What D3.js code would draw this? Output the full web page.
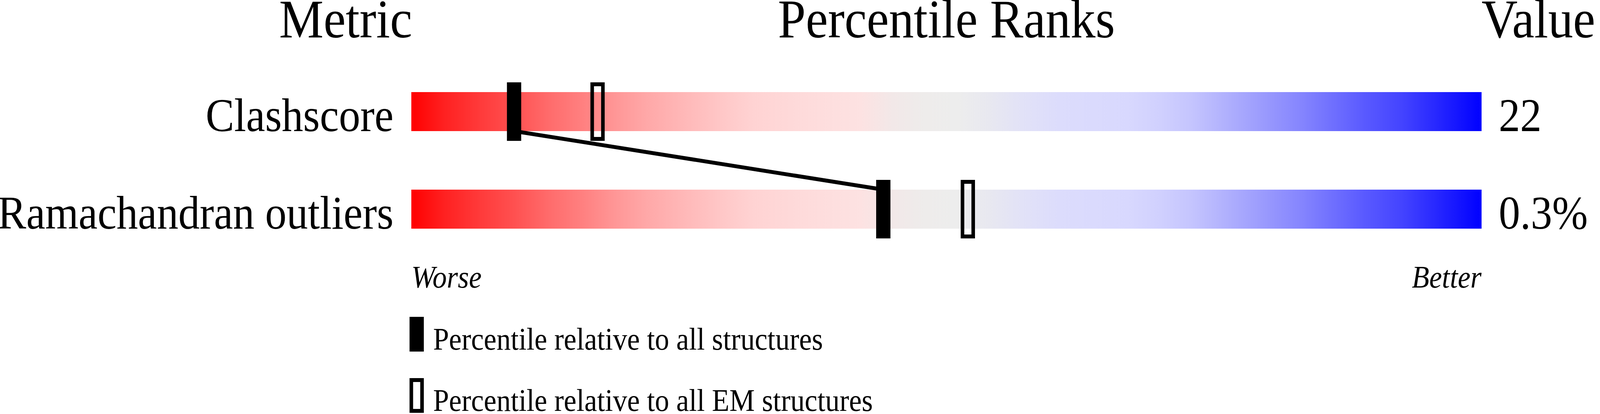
<!DOCTYPE html>
<html>
    <head>
        <script src="https://d3js.org/d3.v7.min.js"></script>
        <style>
            html, body { margin: 0; padding: 0; overflow: hidden; background: #fff; }
            svg { display: block; width: 100vw; height: 100vh; }
            text { font-family: "Liberation Serif", "Times New Roman", serif; fill: #000; }
        </style>
    </head>
    <body>
        <div id="graph"></div>
    </body>
</html>

<script>
    var metrics = ["Clashscore", "Ramachandran outliers"];
    var values = ["22", "0.3%"];
    var pctAll = [9.6, 44.1];     // percentile vs all structures (filled marker)
    var pctEM = [17.4, 52.0];     // percentile vs all EM structures (hollow marker)
    var legendLabels = ["Percentile relative to all structures", "Percentile relative to all EM structures"];

    var width = 4485, height = 1061;

    var svg = d3.select("#graph")
    .append("svg")
        .attr("viewBox", "0 0 " + width + " " + height)
        .attr("preserveAspectRatio", "none");

    var x = d3.scaleLinear()
        .domain([0, 100])
        .range([1153, 4153]);

    var y = d3.scaleBand()
        .domain(metrics)
        .range([236, 586])
        .paddingInner(0.6);

    // red -> grey -> blue slider gradient
    var grad = svg.append("defs")
        .append("linearGradient")
        .attr("id", "slider")
        .attr("x1", "0%").attr("x2", "100%")
        .attr("y1", "0%").attr("y2", "0%");
    var stops = [
        [0, "#ff0000"], [0.03, "#ff2020"], [0.064, "#ff3a3a"], [0.096, "#ff5050"],
        [0.128, "#ff6b6b"], [0.16, "#ff8080"], [0.19, "#ff9696"], [0.22, "#ffa8a8"],
        [0.255, "#ffb8b8"], [0.287, "#ffc6c6"], [0.32, "#ffd3d3"], [0.36, "#fedada"],
        [0.42, "#fde2e2"], [0.45, "#f2e8e8"], [0.48, "#eeeceb"], [0.51, "#ededed"],
        [0.54, "#e8e8f0"], [0.57, "#e2e2f7"], [0.605, "#dcdcfc"], [0.67, "#d8d8fe"],
        [0.70, "#d0d0fe"], [0.73, "#c4c4fe"], [0.765, "#aeaefd"], [0.80, "#9898fd"],
        [0.83, "#8686fe"], [0.86, "#7070fe"], [0.89, "#5a5aff"], [0.925, "#4444ff"],
        [0.957, "#2828ff"], [1, "#0000ff"]
    ];
    grad.selectAll("stop")
        .data(stops)
        .enter()
        .append("stop")
            .attr("offset", d => d[0])
            .attr("stop-color", d => d[1]);

    // column headers
    svg.append("text")
        .attr("x", 969).attr("y", 96)
        .style("text-anchor", "middle")
        .style("font-size", "140px")
        .text("Metric");
    svg.append("text")
        .attr("x", (x(0) + x(100)) / 2).attr("y", 96)
        .style("text-anchor", "middle")
        .style("font-size", "140px")
        .text("Percentile Ranks");
    svg.append("text")
        .attr("x", x(100)).attr("y", 96)
        .style("text-anchor", "start")
        .style("font-size", "140px")
        .text("Value");

    // bars
    svg.append("g")
        .selectAll("rect")
        .data(metrics)
        .enter()
        .append("rect")
            .attr("x", x(0))
            .attr("y", d => y(d))
            .attr("width", x(100) - x(0))
            .attr("height", y.bandwidth())
            .style("fill", "url(#slider)");

    // metric names
    svg.append("g")
        .selectAll("text")
        .data(metrics)
        .enter()
        .append("text")
            .attr("x", x(0) - 50)
            .attr("y", d => y(d) + y.bandwidth())
            .style("text-anchor", "end")
            .style("font-size", "120px")
            .text(d => d);

    // values
    svg.append("g")
        .selectAll("text")
        .data(values)
        .enter()
        .append("text")
            .attr("x", x(100) + 48)
            .attr("y", (d, i) => y(metrics[i]) + y.bandwidth())
            .style("font-size", "120px")
            .text(d => d);

    // line joining the filled markers
    var link = d3.line();
    var pts = pctAll.map((p, i) => [x(p), i == 0 ? y(metrics[i]) + y.bandwidth() : y(metrics[i])]);
    svg.append("path")
        .attr("d", link(pts))
        .style("fill", "none")
        .style("stroke", "#000")
        .style("stroke-width", 10);

    var mw = 40, over = 25, sw = 10;

    // hollow markers (EM)
    svg.append("g")
        .selectAll("rect")
        .data(pctEM)
        .enter()
        .append("rect")
            .attr("x", d => x(d) - mw / 2 + sw / 2)
            .attr("y", (d, i) => y(metrics[i]) - over + sw / 2)
            .attr("width", mw - sw)
            .attr("height", y.bandwidth() + 2 * over - sw)
            .style("fill", "none")
            .style("stroke", "#000")
            .style("stroke-width", sw);

    // filled markers (all structures)
    svg.append("g")
        .selectAll("rect")
        .data(pctAll)
        .enter()
        .append("rect")
            .attr("x", d => x(d) - mw / 2)
            .attr("y", (d, i) => y(metrics[i]) - over)
            .attr("width", mw)
            .attr("height", y.bandwidth() + 2 * over)
            .style("fill", "#000");

    // worse / better
    svg.append("text")
        .attr("x", x(0)).attr("y", 737)
        .style("font-size", "80px")
        .style("font-style", "italic")
        .text("Worse");
    svg.append("text")
        .attr("x", x(100)).attr("y", 737)
        .style("text-anchor", "end")
        .style("font-size", "80px")
        .style("font-style", "italic")
        .text("Better");

    // legend
    var legend = svg.append("g")
        .selectAll("g")
        .data(legendLabels)
        .enter()
        .append("g")
            .attr("transform", (d, i) => "translate(1148," + (812 + i * 157) + ")");
    legend.append("rect")
        .attr("x", (d, i) => i == 0 ? 0 : sw / 2)
        .attr("y", (d, i) => i == 0 ? 0 : sw / 2)
        .attr("width", (d, i) => i == 0 ? 40 : 40 - sw)
        .attr("height", (d, i) => i == 0 ? 89 : 89 - sw)
        .style("fill", (d, i) => i == 0 ? "#000" : "none")
        .style("stroke", (d, i) => i == 0 ? "none" : "#000")
        .style("stroke-width", sw);
    legend.append("text")
        .attr("x", 66)
        .attr("y", 84)
        .style("font-size", "80px")
        .text(d => d);
</script>
